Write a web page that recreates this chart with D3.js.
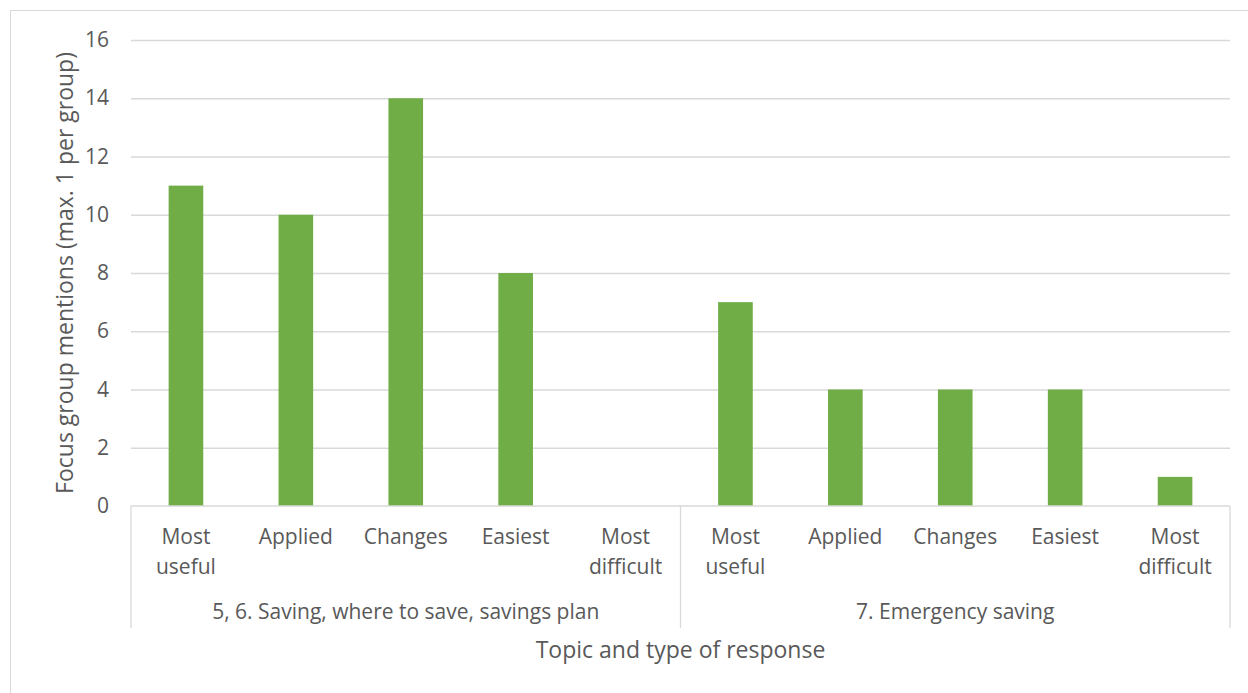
<!DOCTYPE html>
<html>
<head>
<meta charset="utf-8">
<script src="https://cdn.jsdelivr.net/npm/d3@7"></script>
<style>
  html, body { margin: 0; padding: 0; background: #fff; }
  svg { display: block; }
  text { font-family: "Open Sans", "Lato", sans-serif; fill: #595959; }
</style>
</head>
<body>
<svg id="chart" width="1248" height="693"></svg>
<script>
// Topic groups and the response types within each
const groups = ["5, 6. Saving, where to save, savings plan", "7. Emergency saving"];
const responseTypes = [["Most", "useful"], ["Applied"], ["Changes"], ["Easiest"], ["Most", "difficult"]];
// Mentions per response type, one array per topic group
const savingValues = [11, 10, 14, 8, 0];
const emergencyValues = [7, 4, 4, 4, 1];
const yTicks = [0, 2, 4, 6, 8, 10, 12, 14, 16];

const yTitle = "Focus group mentions (max. 1 per group)";
const xTitle = "Topic and type of response";

const seriesByGroup = [savingValues, emergencyValues];
const rows = [];
groups.forEach((g, gi) => {
  responseTypes.forEach((lines, ri) => {
    rows.push({ key: gi + "-" + ri, group: g, groupIndex: gi, lines, value: seriesByGroup[gi][ri] });
  });
});

const svg = d3.select("#chart");
const W = 1248, H = 693;
const plot = { left: 131, right: 1230, top: 40, bottom: 506 };
const labelFont = 21;
const titleFont = 23;

// outer chart frame
svg.append("rect")
  .attr("x", 10.5).attr("y", 10.5)
  .attr("width", W + 10).attr("height", H + 10)
  .attr("fill", "#fff").attr("stroke", "#d9d9d9").attr("stroke-width", 1);

const x = d3.scaleBand()
  .domain(rows.map(d => d.key))
  .range([plot.left, plot.right])
  .paddingInner(0.685).paddingOuter(0.3425);

const y = d3.scaleLinear().domain([0, 16]).range([plot.bottom, plot.top]);

// horizontal gridlines via the y axis
const yAxis = d3.axisLeft(y).tickValues(yTicks).tickSize(-(plot.right - plot.left)).tickPadding(22);
const gy = svg.append("g").attr("transform", `translate(${plot.left},0)`).call(yAxis);
gy.select(".domain").remove();
gy.selectAll(".tick line").attr("stroke", "#d9d9d9").attr("stroke-width", 1.3)
  .filter(d => d === 0).remove();
gy.selectAll(".tick text").attr("font-size", labelFont).attr("fill", "#595959")
  .style("font-family", "'Open Sans', Lato, sans-serif");

// bars
svg.append("g").selectAll("rect")
  .data(rows.filter(d => d.value > 0))
  .join("rect")
  .attr("x", d => x(d.key))
  .attr("width", x.bandwidth())
  .attr("y", d => y(d.value))
  .attr("height", d => y(0) - y(d.value))
  .attr("fill", "#70ad47");

// category axis line
svg.append("line")
  .attr("x1", plot.left).attr("x2", plot.right)
  .attr("y1", plot.bottom).attr("y2", plot.bottom)
  .attr("stroke", "#d9d9d9").attr("stroke-width", 1.3);

// group separators spanning both label levels
const groupStep = (plot.right - plot.left) / groups.length;
const sepX = d3.range(groups.length + 1).map(i => plot.left + i * groupStep);
svg.append("g").selectAll("line")
  .data(sepX)
  .join("line")
  .attr("x1", d => d).attr("x2", d => d)
  .attr("y1", plot.bottom).attr("y2", 628)
  .attr("stroke", "#d9d9d9").attr("stroke-width", 1.3);

// response type labels (first level)
const cat = svg.append("g").selectAll("text")
  .data(rows)
  .join("text")
  .attr("x", d => x(d.key) + x.bandwidth() / 2)
  .attr("y", 544)
  .attr("text-anchor", "middle")
  .attr("font-size", labelFont);
cat.selectAll("tspan")
  .data(d => d.lines.map((t, i) => ({ t, i, cx: x(d.key) + x.bandwidth() / 2 })))
  .join("tspan")
  .attr("x", d => d.cx)
  .attr("dy", d => d.i === 0 ? 0 : 29.5)
  .text(d => d.t);

// topic group labels (second level)
svg.append("g").selectAll("text")
  .data(groups)
  .join("text")
  .attr("x", (d, i) => plot.left + (i + 0.5) * groupStep)
  .attr("y", 619)
  .attr("text-anchor", "middle")
  .attr("font-size", labelFont)
  .text(d => d);

// axis titles
svg.append("text")
  .attr("x", (plot.left + plot.right) / 2)
  .attr("y", 658)
  .attr("text-anchor", "middle")
  .attr("font-size", titleFont)
  .text(xTitle);

svg.append("text")
  .attr("transform", `translate(73,${(plot.top + plot.bottom) / 2}) rotate(-90)`)
  .attr("text-anchor", "middle")
  .attr("font-size", titleFont)
  .text(yTitle);
</script>
</body>
</html>
